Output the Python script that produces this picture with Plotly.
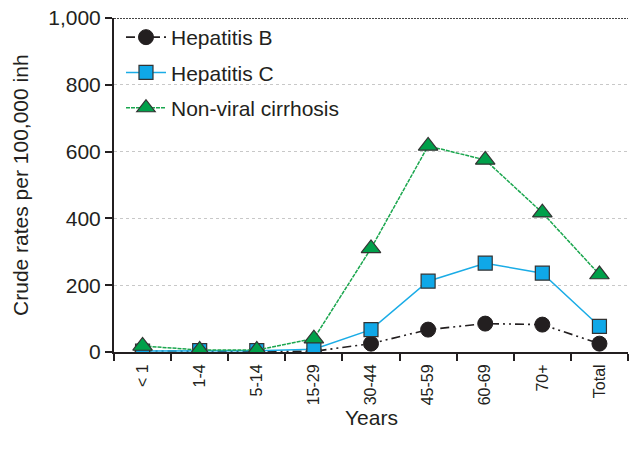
import plotly.graph_objects as go

categories = ["< 1", "1-4", "5-14", "15-29", "30-44", "45-59", "60-69", "70+", "Total"]
hep_b = [3, 2, 2, 2, 25, 67, 85, 82, 25]
hep_c = [3, 4, 4, 8, 67, 212, 266, 236, 77]
non_viral = [18, 6, 6, 40, 310, 617, 575, 417, 232]
y_ticks = [0, 200, 400, 600, 800, 1000]
y_tick_labels = ["0", "200", "400", "600", "800", "1,000"]

font = "Liberation Sans, Arial, sans-serif"

fig = go.Figure()
fig.add_trace(go.Scatter(
    x=categories, y=hep_b, name="Hepatitis B", mode="lines+markers", legendgroup="b",
    line=dict(color="#231f20", width=1.6, dash="9px,4px,2px,4px,2px,4px"),
    marker=dict(symbol="circle", size=15, color="#231f20", line=dict(color="#231f20", width=1)),
))
fig.add_trace(go.Scatter(
    x=categories, y=hep_c, name="Hepatitis C", mode="lines+markers", legendgroup="c",
    line=dict(color="#1aace6", width=1.5),
    marker=dict(symbol="square", size=14, color="#0fa8e8", line=dict(color="#333333", width=1.2)),
))
fig.add_trace(go.Scatter(
    x=categories, y=non_viral, name="Non-viral cirrhosis", mode="lines+markers", legendgroup="n",
    line=dict(color="#1aa64e", width=1.5, dash="4px,1px"),
    marker=dict(symbol="triangle-up", size=17, color="#00a04a", line=dict(color="#333333", width=1.2)),
))

fig.add_shape(type="line", xref="paper", yref="y", x0=0, x1=1, y0=1000, y1=1000,
              line=dict(color="#444444", width=2, dash="2px,1px"))

fig.add_annotation(
    text="Crude rates per 100,000 inh", xref="paper", yref="paper",
    x=-0.183, y=0.5, xanchor="center", yanchor="middle", textangle=-90,
    showarrow=False, font=dict(size=21, family=font, color="#231f20"),
)
fig.add_annotation(
    text="Years", xref="paper", yref="paper",
    x=0.5, y=-0.197, xanchor="center", yanchor="middle",
    showarrow=False, font=dict(size=21, family=font, color="#231f20"),
)

fig.update_layout(
    width=644, height=453,
    margin=dict(l=114, r=16, t=18, b=101),
    paper_bgcolor="white", plot_bgcolor="white",
    font=dict(family=font, size=21, color="#231f20"),
    showlegend=True,
    legend=dict(x=0.0136, y=1.003, xanchor="left", yanchor="top", bgcolor="rgba(255,255,255,0)",
                font=dict(size=21), tracegroupgap=5, itemwidth=40),
    xaxis=dict(
        tickangle=-90, showline=True, linecolor="#231f20", linewidth=2,
        ticks="outside", tickson="boundaries", ticklen=7, tickcolor="#231f20", tickwidth=1.5,
        showgrid=False, range=[-0.5, 8.5], tickfont=dict(size=16), automargin=False,
        ticklabelstandoff=4,
    ),
    yaxis=dict(
        range=[0, 1000], tickvals=y_ticks, ticktext=y_tick_labels,
        showline=True, linecolor="#231f20", linewidth=2,
        ticks="outside", ticklen=7, tickcolor="#231f20", tickwidth=1.5,
        showgrid=True, gridcolor="#c8c8c8", griddash="dot", gridwidth=1,
        zeroline=False, tickfont=dict(size=21), automargin=False,
        ticklabeloverflow="allow",
    ),
)

fig.write_html("out.html", config={"displayModeBar": False},
               post_script="document.body.style.margin='0';")
